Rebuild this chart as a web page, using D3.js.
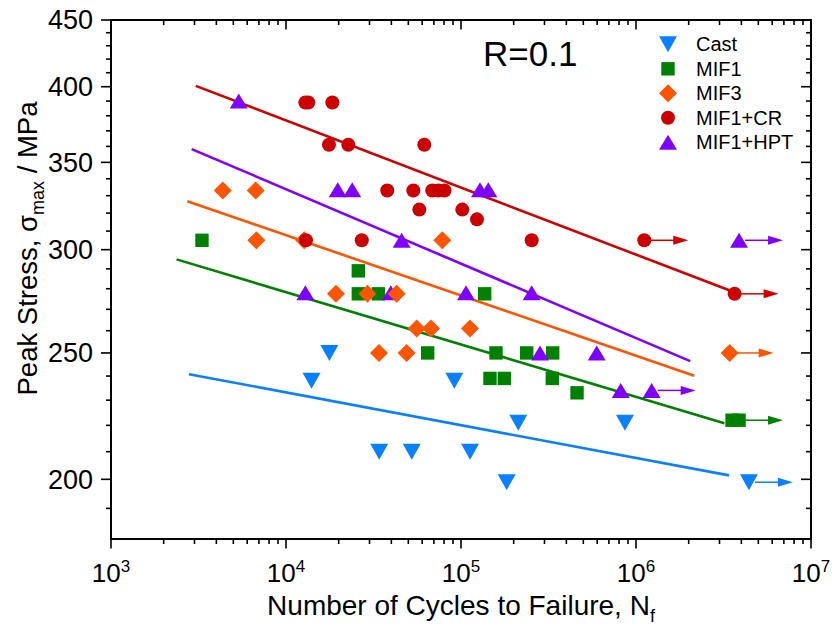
<!DOCTYPE html>
<html>
<head>
<meta charset="utf-8">
<script src="https://cdn.jsdelivr.net/npm/d3@7"></script>
<style>
  body { margin: 0; background: #fff; }
  text { font-family: "Liberation Sans", Arial, sans-serif; fill: #000; }
</style>
</head>
<body>
<svg width="835" height="630"></svg>
<script>
// series names, colours, marker shapes
const seriesNames = ["Cast", "MIF1", "MIF3", "MIF1+CR", "MIF1+HPT"];
const seriesColors = ["#0A80FF", "#008000", "#FF5500", "#CC0000", "#8000FF"];
const seriesShapes = ["tridown", "square", "diamond", "circle", "triup"];

// Cast
const castCycles = [14000, 17700, 34100, 52300, 91600, 112600, 182400, 212500, 865000, 4420000];
const castStress = [238, 250, 210, 210, 238, 210, 199, 221, 221, 199];
const castRunout = [0, 0, 0, 0, 0, 0, 0, 0, 0, 1];

// MIF1
const mif1Cycles = [3310, 25900, 25900, 33700, 64500, 136600, 146400, 158500, 176800, 237400, 332500, 334200, 460300, 3540000, 3880000];
const mif1Stress = [305, 289, 277.5, 277.5, 250, 277.5, 239, 250, 239, 250, 239, 250, 233, 222, 222];
const mif1Runout = [0, 0, 0, 0, 0, 0, 0, 0, 0, 0, 0, 0, 0, 0, 1];

// MIF3
const mif3Cycles = [4350, 6710, 6770, 12700, 19300, 29200, 42900, 34000, 48900, 55800, 67400, 78200, 112600, 3430000];
const mif3Stress = [333, 333, 305, 305, 277.5, 277.5, 277.5, 250, 250, 261, 261, 305, 261, 250];
const mif3Runout = [0, 0, 0, 0, 0, 0, 0, 0, 0, 0, 0, 0, 0, 1];

// MIF1+CR
const crCycles = [12900, 13400, 18400, 17600, 22700, 61700, 13000, 27100, 37900, 53400, 68500, 74200, 80500, 57800, 101700, 123400, 253500, 1115000, 3660000];
const crStress = [389, 389, 389, 361, 361, 361, 305, 305, 333, 333, 333, 333, 333, 322, 322, 316.5, 305, 305, 277.5];
const crRunout = [0, 0, 0, 0, 0, 0, 0, 0, 0, 0, 0, 0, 0, 0, 0, 0, 0, 1, 1];

// MIF1+HPT
const hptCycles = [5370, 19750, 23900, 128400, 143200, 45800, 12900, 39700, 106800, 253500, 282800, 596400, 817600, 1229000, 3880000];
const hptStress = [390, 333.5, 333.5, 333.5, 333.5, 305, 278, 278, 278, 278, 250, 250, 234, 234, 305];
const hptRunout = [0, 0, 0, 0, 0, 0, 0, 0, 0, 0, 0, 0, 0, 1, 1];

// fitted lines: [cycles, stress] start and end
const fitStart = [[2790, 240.8], [2370, 294.9], [2730, 326.8], [3050, 400.6], [2890, 358.3]];
const fitEnd = [[3.40e6, 201.4], [3.20e6, 220.8], [2.15e6, 240.1], [3.44e6, 279.1], [2.04e6, 246.4]];

// axis ticks
const xMajor = [1e3, 1e4, 1e5, 1e6, 1e7];
const xExp = [3, 4, 5, 6, 7];
const yMajor = [200, 250, 300, 350, 400, 450];

const cyclesAll = [castCycles, mif1Cycles, mif3Cycles, crCycles, hptCycles];
const stressAll = [castStress, mif1Stress, mif3Stress, crStress, hptStress];
const runoutAll = [castRunout, mif1Runout, mif3Runout, crRunout, hptRunout];

const pLeft = 111, pRight = 811, pTop = 20, pBottom = 539;

const svg = d3.select("svg");
svg.append("rect").attr("width", 835).attr("height", 630).attr("fill", "#fff");

const x = d3.scaleLog().domain([1e3, 1e7]).range([pLeft, pRight]);
const y = d3.scaleLog().domain([180, 450]).range([pBottom, pTop]);

const xMinor = [];
for (let e = 3; e < 7; e++) for (let m = 2; m < 10; m++) xMinor.push(m * Math.pow(10, e));
const yMinor = d3.range(190, 450, 10).filter(v => v % 50 !== 0);

// ticks
const ticks = svg.append("g").attr("stroke", "#000").attr("stroke-width", 1.6);
function hTicks(vals, len) {
  vals.forEach(v => {
    ticks.append("line").attr("x1", x(v)).attr("x2", x(v)).attr("y1", pBottom).attr("y2", pBottom + len);
    ticks.append("line").attr("x1", x(v)).attr("x2", x(v)).attr("y1", pTop).attr("y2", pTop + len);
  });
}
function vTicks(vals, len) {
  vals.forEach(v => {
    ticks.append("line").attr("x1", pLeft).attr("x2", pLeft - len).attr("y1", y(v)).attr("y2", y(v));
    ticks.append("line").attr("x1", pRight).attr("x2", pRight - len).attr("y1", y(v)).attr("y2", y(v));
  });
}
hTicks(xMajor, 9.5);
hTicks(xMinor, 5);
vTicks(yMajor, 10);
vTicks(yMinor, 5);

// frame
svg.append("rect")
  .attr("x", pLeft).attr("y", pTop)
  .attr("width", pRight - pLeft).attr("height", pBottom - pTop)
  .attr("fill", "none").attr("stroke", "#000").attr("stroke-width", 2);

// tick labels
const xl = svg.append("g").selectAll("text").data(xMajor).enter()
  .append("text")
  .attr("x", d => x(d)).attr("y", 582)
  .attr("text-anchor", "middle")
  .attr("font-size", 26);
xl.append("tspan").text("10");
xl.append("tspan").attr("dy", -10).attr("font-size", 17).text((d, i) => xExp[i]);

svg.append("g").selectAll("text").data(yMajor).enter()
  .append("text")
  .attr("x", 93).attr("y", d => y(d))
  .attr("dy", "0.35em")
  .attr("text-anchor", "end")
  .attr("font-size", 27)
  .text(d => d);

// axis titles
const xt = svg.append("text")
  .attr("x", 461).attr("y", 615)
  .attr("text-anchor", "middle")
  .attr("font-size", 28);
xt.append("tspan").text("Number of Cycles to Failure, N");
xt.append("tspan").attr("dy", 7).attr("font-size", 18).text("f");

const yt = svg.append("text")
  .attr("transform", "translate(37,248.5) rotate(-90)")
  .attr("text-anchor", "middle")
  .attr("font-size", 27.5);
yt.append("tspan").text("Peak Stress, σ");
yt.append("tspan").attr("dy", 7).attr("font-size", 18).text("max");
yt.append("tspan").attr("dy", -7).text(" / MPa");

svg.append("text")
  .attr("x", 483).attr("y", 66)
  .attr("font-size", 35)
  .text("R=0.1");

// marker shapes
function shapePath(s) {
  if (s === "tridown") return "M-9,-8L9,-8L0,8Z";
  if (s === "triup") return "M0,-7.5L9,7.5L-9,7.5Z";
  if (s === "square") return "M-6.7,-6.7H6.7V6.7H-6.7Z";
  if (s === "diamond") return "M0,-9L9,0L0,9L-9,0Z";
  return "M7,0A7,7 0 1,1 -7,0A7,7 0 1,1 7,0Z";
}

// fitted lines
const line = d3.line().x(d => x(d[0])).y(d => y(d[1]));
svg.append("g").selectAll("path").data(seriesNames).enter()
  .append("path")
  .attr("d", (d, i) => line([fitStart[i], fitEnd[i]]))
  .attr("fill", "none")
  .attr("stroke", (d, i) => seriesColors[i])
  .attr("stroke-width", 2.6);

// points, in drawing order
const drawOrder = [0, 1, 4, 2, 3];
drawOrder.forEach(i => {
  const pts = cyclesAll[i].map((c, j) => ({ c: c, s: stressAll[i][j], r: runoutAll[i][j] }));
  const g = svg.append("g").attr("class", "series");
  const runs = pts.filter(p => p.r);
  g.selectAll("line.run").data(runs).enter()
    .append("line")
    .attr("x1", p => x(p.c) + 6).attr("x2", p => x(p.c) + 31)
    .attr("y1", p => y(p.s)).attr("y2", p => y(p.s))
    .attr("stroke", seriesColors[i]).attr("stroke-width", 1.5);
  g.selectAll("path.head").data(runs).enter()
    .append("path")
    .attr("d", p => {
      const px = x(p.c), py = y(p.s);
      return "M" + (px + 29) + "," + (py - 4.5) + "L" + (px + 44) + "," + py + "L" + (px + 29) + "," + (py + 4.5) + "Z";
    })
    .attr("fill", seriesColors[i]);
  g.selectAll("path.pt").data(pts).enter()
    .append("path")
    .attr("d", shapePath(seriesShapes[i]))
    .attr("transform", p => "translate(" + x(p.c) + "," + y(p.s) + ")")
    .attr("fill", seriesColors[i]);
});

// legend
const lg = svg.append("g").selectAll("g").data(seriesNames).enter()
  .append("g")
  .attr("transform", (d, i) => "translate(668," + (44.3 + i * 24.5) + ")");
lg.append("path")
  .attr("d", (d, i) => shapePath(seriesShapes[i]))
  .attr("fill", (d, i) => seriesColors[i]);
lg.append("text")
  .attr("x", 28).attr("dy", "0.35em")
  .attr("font-size", 20)
  .text(d => d);
</script>
</body>
</html>
